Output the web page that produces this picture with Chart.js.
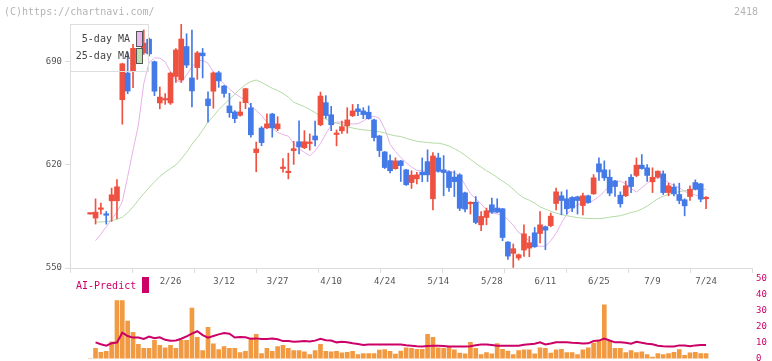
<!DOCTYPE html>
<html>
<head>
<meta charset="utf-8">
<script src="https://cdn.jsdelivr.net/npm/chart.js@4.4.1/dist/chart.umd.min.js"></script>
<style>
  html, body { margin: 0; padding: 0; background: #fff; }
  #wrap { position: relative; width: 772px; height: 361px; overflow: hidden; font-family: "DejaVu Sans Mono", monospace; }
  canvas { position: absolute; left: 0; top: 0; }
  .txt { position: absolute; white-space: nowrap; line-height: 10px; font-size: 10px; }
  .sw { position: absolute; box-sizing: border-box; }
</style>
</head>
<body>
<div id="wrap">
  <canvas id="vol" width="772" height="368"></canvas>
  <canvas id="main" width="772" height="361"></canvas>
  <div class="txt" style="left:4px;top:7px;color:#b4b4b4;">(C)https://chartnavi.com/</div>
  <div class="txt" style="left:734px;top:7px;color:#b4b4b4;">2418</div>
  <div class="sw" style="left:70px;top:24px;width:79px;height:48px;border:1px solid #ddd;"></div>
  <div class="txt" style="left:70px;top:34px;width:60px;text-align:right;color:#444;">5-day MA</div>
  <div class="txt" style="left:70px;top:51px;width:60px;text-align:right;color:#444;">25-day MA</div>
  <div class="sw" style="left:136px;top:31px;width:7px;height:16px;border:1px solid #555;background:#eab8ec;"></div>
  <div class="sw" style="left:136px;top:48px;width:7px;height:16px;border:1px solid #555;background:#bfe0b0;"></div>
  <div class="txt" style="left:76px;top:281px;color:#cc0066;">AI-Predict</div>
  <div class="sw" style="left:142px;top:277px;width:7px;height:16px;background:#cc0066;"></div>
</div>
<script>
// x-axis labels (candle index -> date)
const tickIdx = [15, 25, 35, 45, 55, 65, 75, 85, 95, 105, 115];
const tickLabels = ['2/26', '3/12', '3/27', '4/10', '4/24', '5/14', '5/28', '6/11', '6/25', '7/9', '7/24'];
const priceTicks = [550, 620, 690];
const volTicks = [0, 10, 20, 30, 40, 50];

// daily candles
const opens = [
  586.6, 583.9, 589.8, 586.8, 595.6, 595.6, 664.2, 682.3, 683.3, 693,
  696, 705.3, 690, 662, 664, 662, 680, 677.6, 700.3, 679,
  686, 695.9, 664.7, 670, 682.5, 673.5, 660, 655.9, 653.6, 662.2,
  658.7, 628.3, 645, 645.1, 654.5, 644.5, 617.5, 614.7, 629.6, 635.7,
  631.6, 634.5, 639.6, 647.2, 662.2, 654, 640.6, 643.1, 646.5, 653.3,
  658, 656.6, 655.7, 650.5, 639.6, 628.8, 622.9, 617.4, 622.7, 616.6,
  608, 610.5, 615, 622.2, 597, 624.7, 616.6, 615.3, 611.7, 613.2,
  601, 593.6, 594.7, 579.3, 584.3, 592.9, 590.7, 590.2, 567.6, 559.9,
  556.8, 562.2, 563.5, 573.9, 573.4, 578, 578.7, 593.8, 599, 597,
  597.9, 598.3, 592.4, 599, 600.3, 620.7, 616.6, 611.6, 609.1, 599.4,
  599, 611.6, 612.8, 619.8, 618, 608.5, 611.6, 613.9, 601.2, 604.9,
  599.9, 596.3, 598.5, 608, 607.1, 597
];
const highs = [
  586.6, 596.9, 594, 588.4, 604.2, 610, 689, 696.3, 701.8, 699,
  711.6, 706, 690.5, 672.8, 668.3, 683, 699, 715.5, 709, 711.5,
  697, 699, 669.6, 683, 683.5, 674, 668.6, 656.8, 662.8, 672,
  661.8, 635.5, 646, 654.6, 655, 652.7, 624.2, 627.9, 636, 649.8,
  643.2, 641, 649.7, 669.4, 667, 659.7, 643.7, 649.7, 658.8, 661,
  661, 658.8, 660, 651, 640, 629, 626.8, 624.8, 623, 617,
  616, 615, 624.7, 630.2, 628.3, 627.9, 626.3, 616, 615.9, 614,
  601.5, 595, 598.5, 588.3, 590.7, 597.4, 597, 590.5, 568, 566.3,
  559.5, 579.3, 571.4, 577.5, 588.3, 578.5, 587.3, 604.2, 601.7, 603,
  598.5, 598.8, 600.8, 599.5, 613.4, 624.8, 622.7, 616.6, 609.5, 601.7,
  609, 613.4, 624.7, 627, 620.2, 618, 616, 615.9, 607.6, 607.1,
  607.6, 597, 605.8, 609.8, 607.5, 598.5
];
const lows = [
  586.6, 579.8, 586.6, 579.8, 581.6, 583.4, 647.6, 668.3, 672.4, 690,
  695, 694, 667, 658, 661, 661, 676, 676, 686, 659.4,
  678, 679, 648.9, 658.4, 672.6, 666, 652.3, 648.6, 653, 658.1,
  638.8, 615.3, 633, 644.5, 638.8, 643.2, 615, 610.5, 620.3, 627.5,
  631, 630, 632.9, 646.5, 651.6, 643.2, 632.9, 641.3, 641.5, 652.8,
  653.4, 651.4, 651, 636.3, 625.6, 617.5, 614.6, 617, 608.7, 606,
  604, 607, 608.5, 608.7, 589.5, 615, 599, 602, 598.5, 589,
  588, 586.6, 580, 575.3, 579.3, 587, 587.5, 568.5, 555.8, 550.4,
  555.4, 557.9, 557.7, 564, 567.1, 562.4, 578, 589.5, 586.1, 586.6,
  588.3, 586.6, 586.1, 594, 600, 609.4, 609.4, 599, 598.5, 591.3,
  598.5, 601.2, 612, 617, 608.7, 601.2, 611, 599.9, 599, 599,
  593.6, 585.4, 595.8, 603, 594.9, 590.2
];
const closes = [
  586.6, 587.9, 590.3, 585.8, 599.7, 605.1, 688.6, 670.1, 699.1, 695,
  702.6, 695.3, 670, 666, 664.5, 682.3, 698, 705.4, 687.7, 670.2,
  696, 694, 660.2, 682.4, 677, 668.5, 655.4, 651.4, 655.9, 671.7,
  640.4, 630.8, 635.1, 647.8, 645.1, 647.8, 618, 615, 631, 632.2,
  635.7, 634.9, 636.9, 666.7, 653.5, 647.2, 641, 645.9, 650.5, 656.6,
  656.2, 654.1, 651.4, 638.5, 629.7, 618.2, 616, 622.7, 619.5, 606.5,
  613, 613.2, 613.2, 613.2, 626, 615.6, 614.8, 604.6, 608.6, 590.5,
  590, 594.6, 580.9, 585, 588.8, 587.9, 587.9, 570.7, 558.1, 563.1,
  559, 573.2, 567.1, 564.4, 579.3, 575.7, 585.2, 601.7, 595.8, 590.2,
  590.7, 595.8, 599, 594.4, 611.2, 615.2, 611.2, 600.8, 605.3, 593.6,
  605.8, 605.3, 619.8, 617.5, 612.8, 611.6, 615.7, 601.2, 605.8, 600.3,
  595.8, 592.2, 603.5, 603.5, 596.7, 597.4
];

// moving averages as drawn
const ma5 = [
  null, 568.5, 573, 578, 583, 588, 595, 612, 630, 647,
  675, 689.5, 692.5, 692.5, 690, 683, 677.5, 676, 681, 686.5,
  690.5, 691, 689, 683, 678.5, 675, 671.5, 668.5, 666, 664,
  660, 657, 653.5, 649, 645, 642, 640.5, 639.5, 634.5, 631,
  628.5, 626.2, 629.5, 634.5, 641, 647, 649, 649, 648.2, 647.7,
  648, 649.8, 652, 653, 651.5, 644.5, 634, 629, 625, 621.5,
  618.5, 616.2, 615.9, 615.5, 615.6, 616, 616.1, 615.6, 614.7, 612.5,
  606.5, 600.5, 597, 593.5, 589.5, 587.5, 586.7, 585.5, 583, 579,
  574, 572, 568, 565.5, 564.7, 564.7, 568.5, 573.5, 580.5, 586.5,
  590.5, 593, 594, 594, 596, 598.5, 602, 605.5, 608.5, 609,
  607, 604, 601.5, 604.5, 607.5, 610, 611.5, 610.5, 608, 606,
  604.5, 602, 600.5, 599.5, 598.5, 597.5
];
const ma25 = [
  null, 581.2, 581.2, 581.5, 582.2, 583, 584.5, 587.5, 591.5, 596,
  600.5, 604.5, 608.5, 612, 615, 617.5, 620, 624, 628.5, 634,
  638.5, 643.5, 649, 653, 657.5, 661, 664.5, 668, 671.5, 674.5,
  676.5, 677.6, 676, 674, 672, 670.5, 668.5, 666, 662.5, 661,
  659.5, 657.5, 655.5, 653, 651, 649.5, 648.2, 647.5, 646, 645,
  644.3, 643.7, 643.5, 643, 642.5, 641.7, 640.5, 639.7, 639.2, 638,
  637, 636, 635.5, 635.2, 634.8, 634.7, 634, 632.8, 631, 629,
  626.5, 623.8, 621, 618.5, 616, 614, 611.5, 609, 606.5, 603.5,
  600, 597.5, 596, 594, 591.5, 590, 588.5, 587.2, 586.3, 585.5,
  584.8, 584.2, 583.9, 583.6, 583.5, 583.5, 583.9, 584.5, 585, 585.5,
  586.5, 587.7, 588.5, 590, 592, 594.5, 597, 598.7, 600, 601,
  601.8, 602.5, 603, 603.2, 603.4, 603.5
];

// lower panel
const volume = [
  0, 6.4, 4, 4.6, 10.6, 36.4, 36.4, 23.5, 16.5, 8.9,
  6.4, 6.4, 11.4, 8.3, 6.8, 8.3, 6.4, 11.4, 11.4, 31.8,
  13.3, 5.1, 19.7, 9.3, 5.7, 7.6, 6.4, 6.4, 3.8, 4.6,
  12.9, 15.2, 3.2, 6.4, 4.6, 7.6, 8.3, 6.4, 5.1, 5.1,
  4.2, 2.5, 5.1, 8.9, 4.6, 4.2, 4.6, 3.6, 4, 4.6,
  2.5, 3.2, 3.2, 3.2, 5.3, 5.6, 4.5, 2.8, 4.7, 6.8,
  6.4, 5.9, 5.9, 15.2, 13.3, 6.8, 6.4, 7.6, 5.5, 3.4,
  3, 10.2, 6.4, 2.5, 3.8, 3, 9.5, 5.9, 4.7, 2.5,
  5.1, 5.5, 5.5, 3, 6.8, 6.4, 3.4, 5.5, 5.9, 3.8,
  3.8, 2.5, 5.5, 6.8, 9.7, 11.4, 33.7, 11, 6.4, 6.4,
  3.8, 5.1, 3.8, 4.2, 2.5, 0.9, 3.2, 2.5, 3.2, 4,
  5.7, 2.1, 3.6, 4, 3.2, 3.2
];
const aiPredict = [
  null, 10.2, 9, 8.1, 9.6, 10.1, 16.3, 14.2, 13.2, 13.2,
  12.3, 13.8, 12.8, 13.4, 11.8, 11.2, 11.4, 12.5, 14, 15.7,
  17.2, 14.8, 13.2, 14.2, 15.2, 16.1, 15.6, 13.2, 13.6, 13.4,
  12.4, 12.7, 12.3, 12.3, 12.6, 12.1, 11, 11, 10.6, 10.8,
  11, 10.7, 11.3, 12.5, 11.6, 11.4, 10.2, 10.6, 10.2, 9.6,
  9.2, 8.6, 8.9, 8.9, 8.9, 8.8, 8.9, 8.9, 8.9, 8.4,
  8.1, 7.8, 7.6, 7.9, 8.1, 8.1, 7.9, 7.6, 7.6, 7.6,
  7.6, 7.7, 8.4, 8.8, 8.9, 8.5, 8.1, 8.1, 8.1, 8.1,
  8.1, 8.7, 9, 9.3, 10.2, 8.9, 9.5, 10.2, 10.2, 10.2,
  9.9, 9.8, 9.5, 9.6, 11, 11.3, 12.6, 11.4, 10.2, 10.2,
  10, 9.3, 10.6, 9.9, 9.4, 9, 8.1, 7.8, 7.6, 7.6,
  8.3, 8.2, 7.7, 8.3, 8.5, 8.5
];

Chart.defaults.font.family = '"DejaVu Sans Mono", monospace';
Chart.defaults.font.size = 9;

const RED = '#ef5140', BLUE = '#4479e8';
const X_MIN = -3.77, X_MAX = 123.58;
const candleColors = opens.map((o, i) => closes[i] >= o ? RED : BLUE);
const xy = (arr) => arr.map((v, i) => ({ x: i, y: v }));

// evenly spaced axis tick marks (11 intervals across the plot)
const gridMarks = [];
for (let k = 0; k <= 11; k++) gridMarks.push(X_MIN + (X_MAX - X_MIN) * k / 11);

new Chart(document.getElementById('main'), {
  type: 'bar',
  data: {
    datasets: [
      { type: 'line', data: xy(ma5), borderColor: '#e6b2ea', borderWidth: 1, pointRadius: 0, order: 4 },
      { type: 'line', data: xy(ma25), borderColor: '#b4daa4', borderWidth: 1, pointRadius: 0, order: 3 },
      {
        data: highs.map((h, i) => ({ x: i, y: [lows[i], h] })),
        backgroundColor: candleColors, barThickness: 1, grouped: false, minBarLength: 1, order: 2
      },
      {
        data: opens.map((o, i) => ({ x: i, y: [o, closes[i]] })),
        backgroundColor: candleColors, barThickness: 5, grouped: false, minBarLength: 1.5, order: 1
      }
    ]
  },
  options: {
    responsive: false,
    animation: false,
    events: [],
    layout: { padding: { left: 0, right: 20, top: 24, bottom: 0 } },
    plugins: { legend: { display: false }, tooltip: { enabled: false } },
    scales: {
      x: {
        type: 'linear', min: X_MIN, max: X_MAX, offset: false,
        afterFit(s) { s.height = 93; },
        afterBuildTicks(s) {
          s.ticks = gridMarks.map(v => ({ value: v })).concat(tickIdx.map(v => ({ value: v })));
        },
        grid: {
          offset: false, drawOnChartArea: false, tickLength: 5,
          color: (ctx) => (ctx.tick && tickIdx.includes(ctx.tick.value)) ? 'rgba(0,0,0,0)' : '#dcdcdc'
        },
        border: { color: '#dcdcdc' },
        ticks: {
          autoSkip: false, maxRotation: 0, padding: 3, color: '#555',
          callback: (v) => { const j = tickIdx.indexOf(v); return j >= 0 ? tickLabels[j] : ''; }
        }
      },
      y: {
        min: 550, max: 715.6,
        afterFit(s) { s.width = 70; },
        afterBuildTicks(s) { s.ticks = priceTicks.map(v => ({ value: v })); },
        grid: { drawOnChartArea: false, tickLength: 5, color: '#dcdcdc' },
        border: { color: '#dcdcdc' },
        ticks: { padding: 3, color: '#555' }
      }
    }
  }
});

new Chart(document.getElementById('vol'), {
  type: 'bar',
  data: {
    datasets: [
      { type: 'line', data: xy(aiPredict), borderColor: '#cc0066', borderWidth: 2, pointRadius: 0, order: 1 },
      { data: xy(volume), backgroundColor: '#f19a42', barThickness: 4, order: 2 }
    ]
  },
  options: {
    responsive: false,
    animation: false,
    events: [],
    layout: { padding: { left: 70, right: 0, top: 279, bottom: 0 } },
    plugins: { legend: { display: false }, tooltip: { enabled: false } },
    scales: {
      x: { type: 'linear', min: X_MIN, max: X_MAX, offset: false, display: false },
      y: {
        position: 'right', min: 0, max: 50,
        afterFit(s) { s.width = 20; },
        afterBuildTicks(s) { s.ticks = volTicks.map(v => ({ value: v })); },
        grid: { display: false, drawTicks: false },
        border: { display: false },
        ticks: { padding: 4, color: '#cc0066' }
      }
    }
  }
});
</script>
</body>
</html>
